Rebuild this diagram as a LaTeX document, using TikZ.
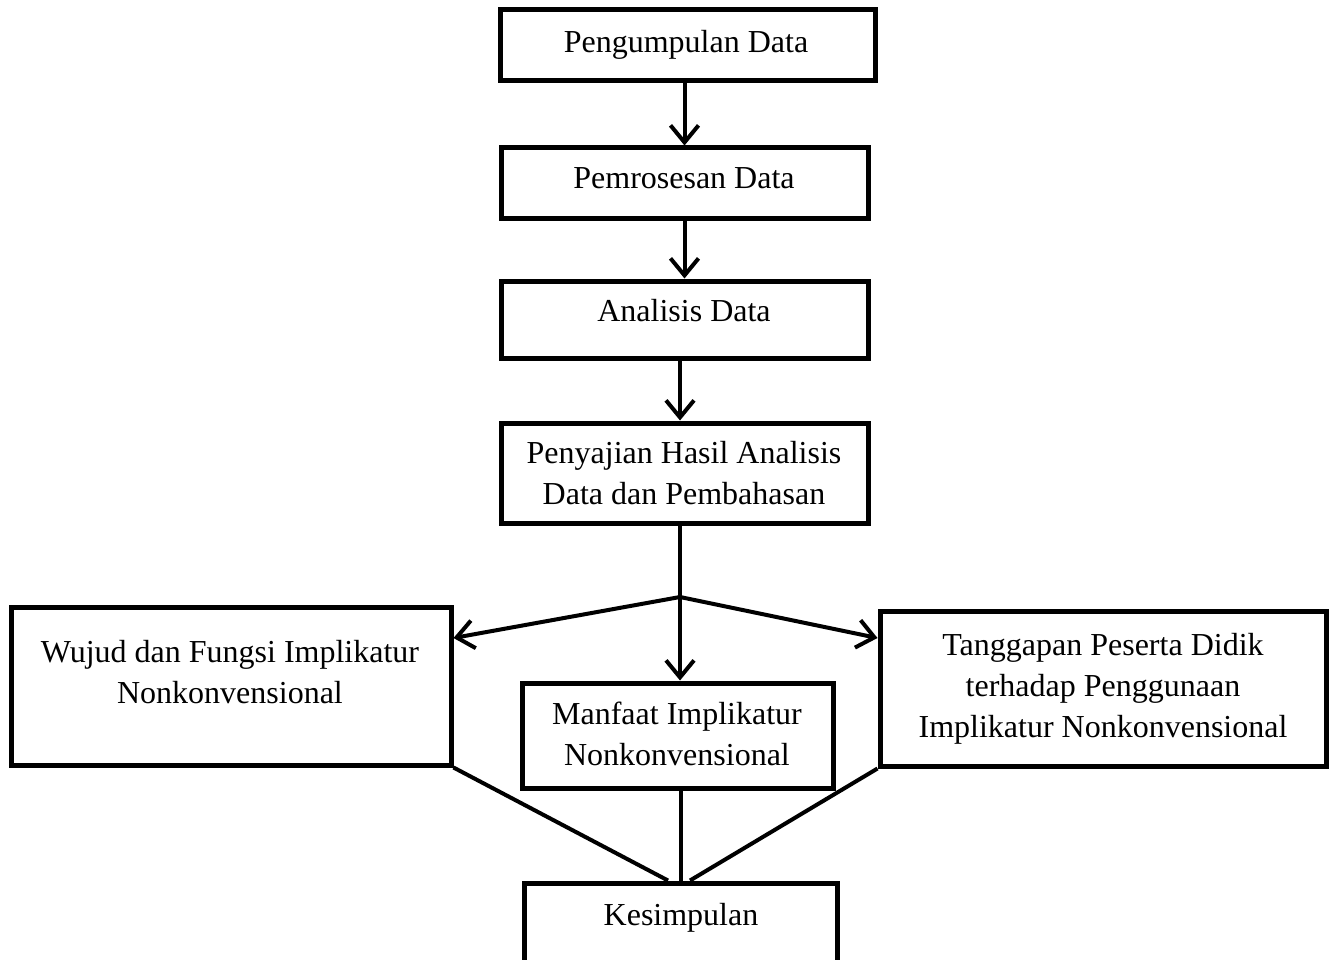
\documentclass[tikz,border=0pt]{standalone}
\usepackage{fontspec}
\setmainfont{Liberation Serif}
\usetikzlibrary{arrows.meta}
\newcommand\mlines[1]{\begin{tabular}[t]{@{}c@{}}#1\end{tabular}}
\begin{document}
\begin{tikzpicture}[x=1pt,y=-1pt,
  box/.style={draw=black,line width=5pt,rectangle,inner sep=0pt,fill=none},
  txt/.style={anchor=base,inner sep=0pt,font=\fontsize{32}{41}\selectfont},
  conn/.style={line width=4pt,draw=black},
  arr/.style={conn,-{Straight Barb[length=17pt,width=28pt,line width=4pt]}}]
\useasboundingbox (0,0) rectangle (1335,960);
% boxes
\node[box,minimum width=375pt,minimum height=71pt] (b1) at (687.5,45.5) {};
\node[box,minimum width=367pt,minimum height=70pt] (b2) at (684.5,183) {};
\node[box,minimum width=367pt,minimum height=77pt] (b3) at (684.5,319.5) {};
\node[box,minimum width=367pt,minimum height=100pt] (b4) at (684.5,473) {};
\node[box,minimum width=440pt,minimum height=158pt] (b5) at (231,686) {};
\node[box,minimum width=311pt,minimum height=105pt] (b6) at (677.5,735.5) {};
\node[box,minimum width=446pt,minimum height=155pt] (b7) at (1103,688.5) {};
\node[box,minimum width=313pt,minimum height=79pt] (b8) at (680.5,922.5) {};
% texts
\node[txt] (t1) at (686,53) {Pengumpulan Data};
\node[txt] (t2) at (684,189) {Pemrosesan Data};
\node[txt] (t3) at (684,321) {Analisis Data};
\node[txt] (t4) at (684,463) {\mlines{Penyajian Hasil Analisis\\Data dan Pembahasan}};
\node[txt] (t5) at (230,662) {\mlines{Wujud dan Fungsi Implikatur\\Nonkonvensional}};
\node[txt] (t6) at (677,724) {\mlines{Manfaat Implikatur\\Nonkonvensional}};
\node[txt] (t7) at (1103,655) {\mlines{Tanggapan Peserta Didik\\terhadap Penggunaan\\Implikatur Nonkonvensional}};
\node[txt] (t8) at (681,925) {Kesimpulan};
% connectors
\coordinate (J) at (680,597);
\draw[arr] (b1.south -| b2.south) -- (b2.north);
\draw[arr] (b2.south) -- (b3.north);
\draw[arr] ([xshift=-4.5pt]b3.south) -- ([xshift=-4.5pt]b4.north);
\draw[conn] (b4.south -| J) -- (J);
\draw[arr] (J) -- (J |- b6.north);
\draw[arr] (J) -- ([yshift=48pt]b5.east);
\draw[arr] (J) -- ([yshift=50.5pt]b7.west);
\draw[conn] (b5.south east) -- ([xshift=-12.5pt]b8.north);
\draw[conn] ([xshift=3.5pt]b6.south) -- ([xshift=3.5pt]b6.south |- b8.north);
\draw[conn] (b7.south west) -- ([xshift=9.5pt]b8.north);
\end{tikzpicture}
\end{document}
